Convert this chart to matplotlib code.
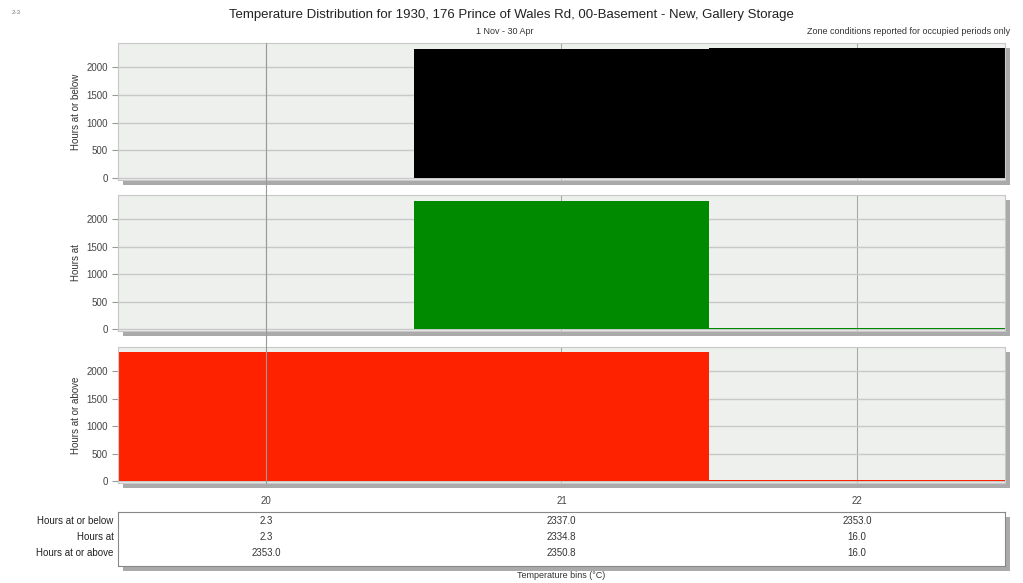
import numpy as np
import matplotlib.pyplot as plt
from matplotlib.patches import Rectangle
from matplotlib.lines import Line2D
from matplotlib.transforms import blended_transform_factory

plt.rcParams['font.family'] = ['Liberation Sans', 'DejaVu Sans']

# Temperature bins and hours per bin
bins = [20, 21, 22]
hours_below = [2.3, 2337.0, 2353.0]
hours_at = [2.3, 2334.8, 16.0]
hours_above = [2353.0, 2350.8, 16.0]

row_names = ['Hours at or below', 'Hours at', 'Hours at or above']
row_values = [hours_below, hours_at, hours_above]
row_colors = ['#000000', '#008a00', '#ff2200']

W, H = 1023, 583
fig = plt.figure(figsize=(W / 100, H / 100), dpi=100)

def frac(x0, y0, x1, y1):
    # pixel box (top-left origin) -> figure fraction rect
    return [x0 / W, 1 - y1 / H, (x1 - x0) / W, (y1 - y0) / H]

def shadow(rect):
    l, b, w, h = rect
    dx, dy = 5 / W, 5 / H
    fig.add_artist(Rectangle((l + dx, b - dy), w, h, transform=fig.transFigure,
                             facecolor='#aaaaaa', edgecolor='none', zorder=-1))

panel_boxes = [(118, 43, 1005, 180), (118, 195, 1005, 331), (118, 347, 1005, 483)]
axes = []
for i, (box, vals, col, name) in enumerate(zip(panel_boxes, row_values, row_colors, row_names)):
    rect = frac(*box)
    shadow(rect)
    ax = fig.add_axes(rect)
    ax.set_facecolor('#eef0ee')
    ax.bar(bins, vals, width=1.0, color=col, zorder=2)
    ax.set_xlim(19.5, 22.5)
    ax.set_ylim(-35, 2440)
    ax.set_yticks([0, 500, 1000, 1500, 2000])
    ax.set_xticks(bins)
    ax.grid(axis='y', color='#c8c8c8', linewidth=1, zorder=1)
    ax.grid(axis='x', color='#a8a8a8', linewidth=0.8, zorder=1)
    ax.set_axisbelow(True)
    for s in ax.spines.values():
        s.set_color('#c8c8c8')
        s.set_linewidth(0.8)
    ax.tick_params(axis='y', labelsize=7, colors='#444444', length=4, color='#999999')
    ax.tick_params(axis='x', length=0, labelsize=7, colors='#444444')
    if i < 2:
        ax.tick_params(axis='x', labelbottom=False)
    else:
        ax.tick_params(axis='x', pad=9)
    ax.set_ylabel(name, fontsize=7, color='#333333', labelpad=4)
    axes.append(ax)

# Summary table under the panels
trect = frac(118, 512, 1005, 566)
shadow(trect)
tax = fig.add_axes(trect)
tax.set_xlim(19.5, 22.5)
tax.set_ylim(0, 1)
tax.set_xticks([])
tax.set_yticks([])
for s in tax.spines.values():
    s.set_color('#888888')
    s.set_linewidth(0.8)
row_y = [0.83, 0.535, 0.24]
label_tf = blended_transform_factory(tax.transAxes, tax.transData)
for name, vals, y in zip(row_names, row_values, row_y):
    tax.text(-0.005, y, name, transform=label_tf, ha='right', va='center',
             fontsize=7, color='#222222')
    for b, v in zip(bins, vals):
        tax.text(b, y, f'{v:.1f}', ha='center', va='center', fontsize=7, color='#333333')

# Cursor line at the 20 °C bin
fig.add_artist(Line2D([266 / W, 266 / W], [1 - 43 / H, 1 - 483 / H],
                      transform=fig.transFigure, color='#999999', linewidth=0.8, zorder=5))

fig.text(0.5, 1 - 15 / H,
         'Temperature Distribution for 1930, 176 Prince of Wales Rd, 00-Basement - New, Gallery Storage',
         ha='center', va='center', fontsize=9.5, color='#222222')
fig.text(505 / W, 1 - 32 / H, '1 Nov - 30 Apr', ha='center', va='center',
         fontsize=6.5, color='#333333')
fig.text(1010 / W, 1 - 32 / H, 'Zone conditions reported for occupied periods only',
         ha='right', va='center', fontsize=6.5, color='#333333')
fig.text(12 / W, 1 - 12 / H, '2-3', ha='left', va='center', fontsize=4.5, color='#777777')
fig.text(561 / W, 1 - 575 / H, 'Temperature bins (°C)', ha='center', va='center',
         fontsize=6.5, color='#333333')

fig.savefig('out.png', dpi=100, facecolor='white')
